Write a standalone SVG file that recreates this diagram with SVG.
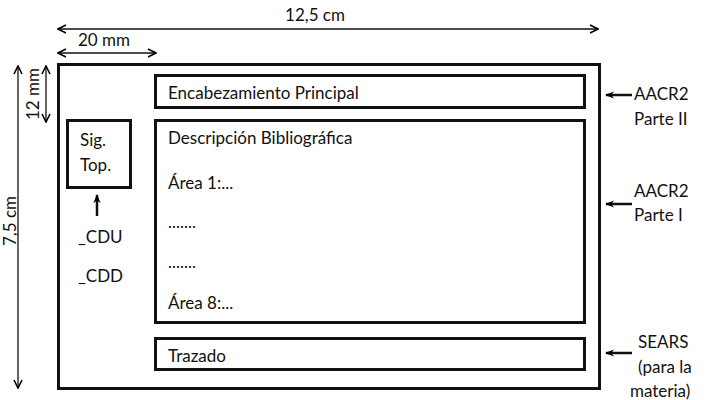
<svg xmlns="http://www.w3.org/2000/svg" width="705" height="400" viewBox="0 0 705 400">
<defs>
<marker id="open" viewBox="0 0 10 10" refX="9" refY="5" markerWidth="10" markerHeight="10" markerUnits="userSpaceOnUse" orient="auto-start-reverse">
<path d="M1,1 L9,5 L1,9" fill="none" stroke="#000" stroke-width="1.6"/>
</marker>
<marker id="solid" viewBox="0 0 10 10" refX="9" refY="5" markerWidth="9" markerHeight="9" markerUnits="userSpaceOnUse" orient="auto">
<path d="M0,1 L10,5 L0,9 L3,5 Z" fill="#000"/>
</marker>
<style>
text{font-family:"Lato","Open Sans","Liberation Sans",sans-serif;font-size:17px;fill:#111}
.box{fill:#fff;stroke:#111;stroke-width:3}
.dim{stroke:#111;stroke-width:1.3;fill:none}
.ptr{stroke:#111;stroke-width:2.5;fill:none}
</style>
</defs>
<rect width="705" height="400" fill="#fff"/>
<g id="card">
<rect class="box" x="58.5" y="64.5" width="541" height="324"/>
</g>
<g id="heading">
<rect class="box" x="155.5" y="75.5" width="429" height="32"/>
<text x="168" y="99">Encabezamiento Principal</text>
</g>
<g id="description">
<rect class="box" x="155.5" y="120.5" width="429" height="202"/>
<text x="168" y="144">Descripción Bibliográfica</text>
<text x="168" y="189">Área 1:...</text>
<text x="168" y="228">.......</text>
<text x="168" y="268">.......</text>
<text x="168" y="309">Área 8:...</text>
</g>
<g id="tracing">
<rect class="box" x="155.5" y="338.5" width="429" height="31"/>
<text x="168" y="362">Trazado</text>
</g>
<g id="signature">
<rect class="box" x="67.5" y="120.5" width="63" height="67"/>
<text x="80" y="146">Sig.</text>
<text x="80" y="171">Top.</text>
</g>
<g id="classification">
<text x="78" y="243">_CDU</text>
<text x="78" y="282">_CDD</text>
</g>
<g id="dimensions">
<line class="dim" x1="58" y1="29" x2="598" y2="29" marker-start="url(#open)" marker-end="url(#open)"/>
<text x="315" y="21" text-anchor="middle">12,5 cm</text>
<line class="dim" x1="58" y1="53" x2="156" y2="53" marker-start="url(#open)" marker-end="url(#open)"/>
<text x="104" y="46" text-anchor="middle">20 mm</text>
<line class="dim" x1="18" y1="66" x2="18" y2="388" marker-start="url(#open)" marker-end="url(#open)"/>
<text transform="translate(16,221) rotate(-90)" text-anchor="middle">7,5 cm</text>
<line class="dim" x1="46" y1="66" x2="46" y2="122" marker-start="url(#open)" marker-end="url(#open)"/>
<text transform="translate(39,94) rotate(-90)" text-anchor="middle">12 mm</text>
</g>
<g id="connectors">
<line class="ptr" x1="632" y1="95" x2="606" y2="95" marker-end="url(#solid)"/>
<line class="ptr" x1="632" y1="204" x2="606" y2="204" marker-end="url(#solid)"/>
<line class="ptr" x1="632" y1="353" x2="606" y2="353" marker-end="url(#solid)"/>
<line class="ptr" x1="97" y1="216" x2="97" y2="195" marker-end="url(#solid)"/>
</g>
<g id="standards">
<text x="634" y="100">AACR2</text>
<text x="634" y="125">Parte II</text>
<text x="634" y="197">AACR2</text>
<text x="634" y="221">Parte I</text>
<text x="638" y="348">SEARS</text>
<text x="638" y="373">(para la</text>
<text x="630" y="397">materia)</text>
</g>
</svg>
